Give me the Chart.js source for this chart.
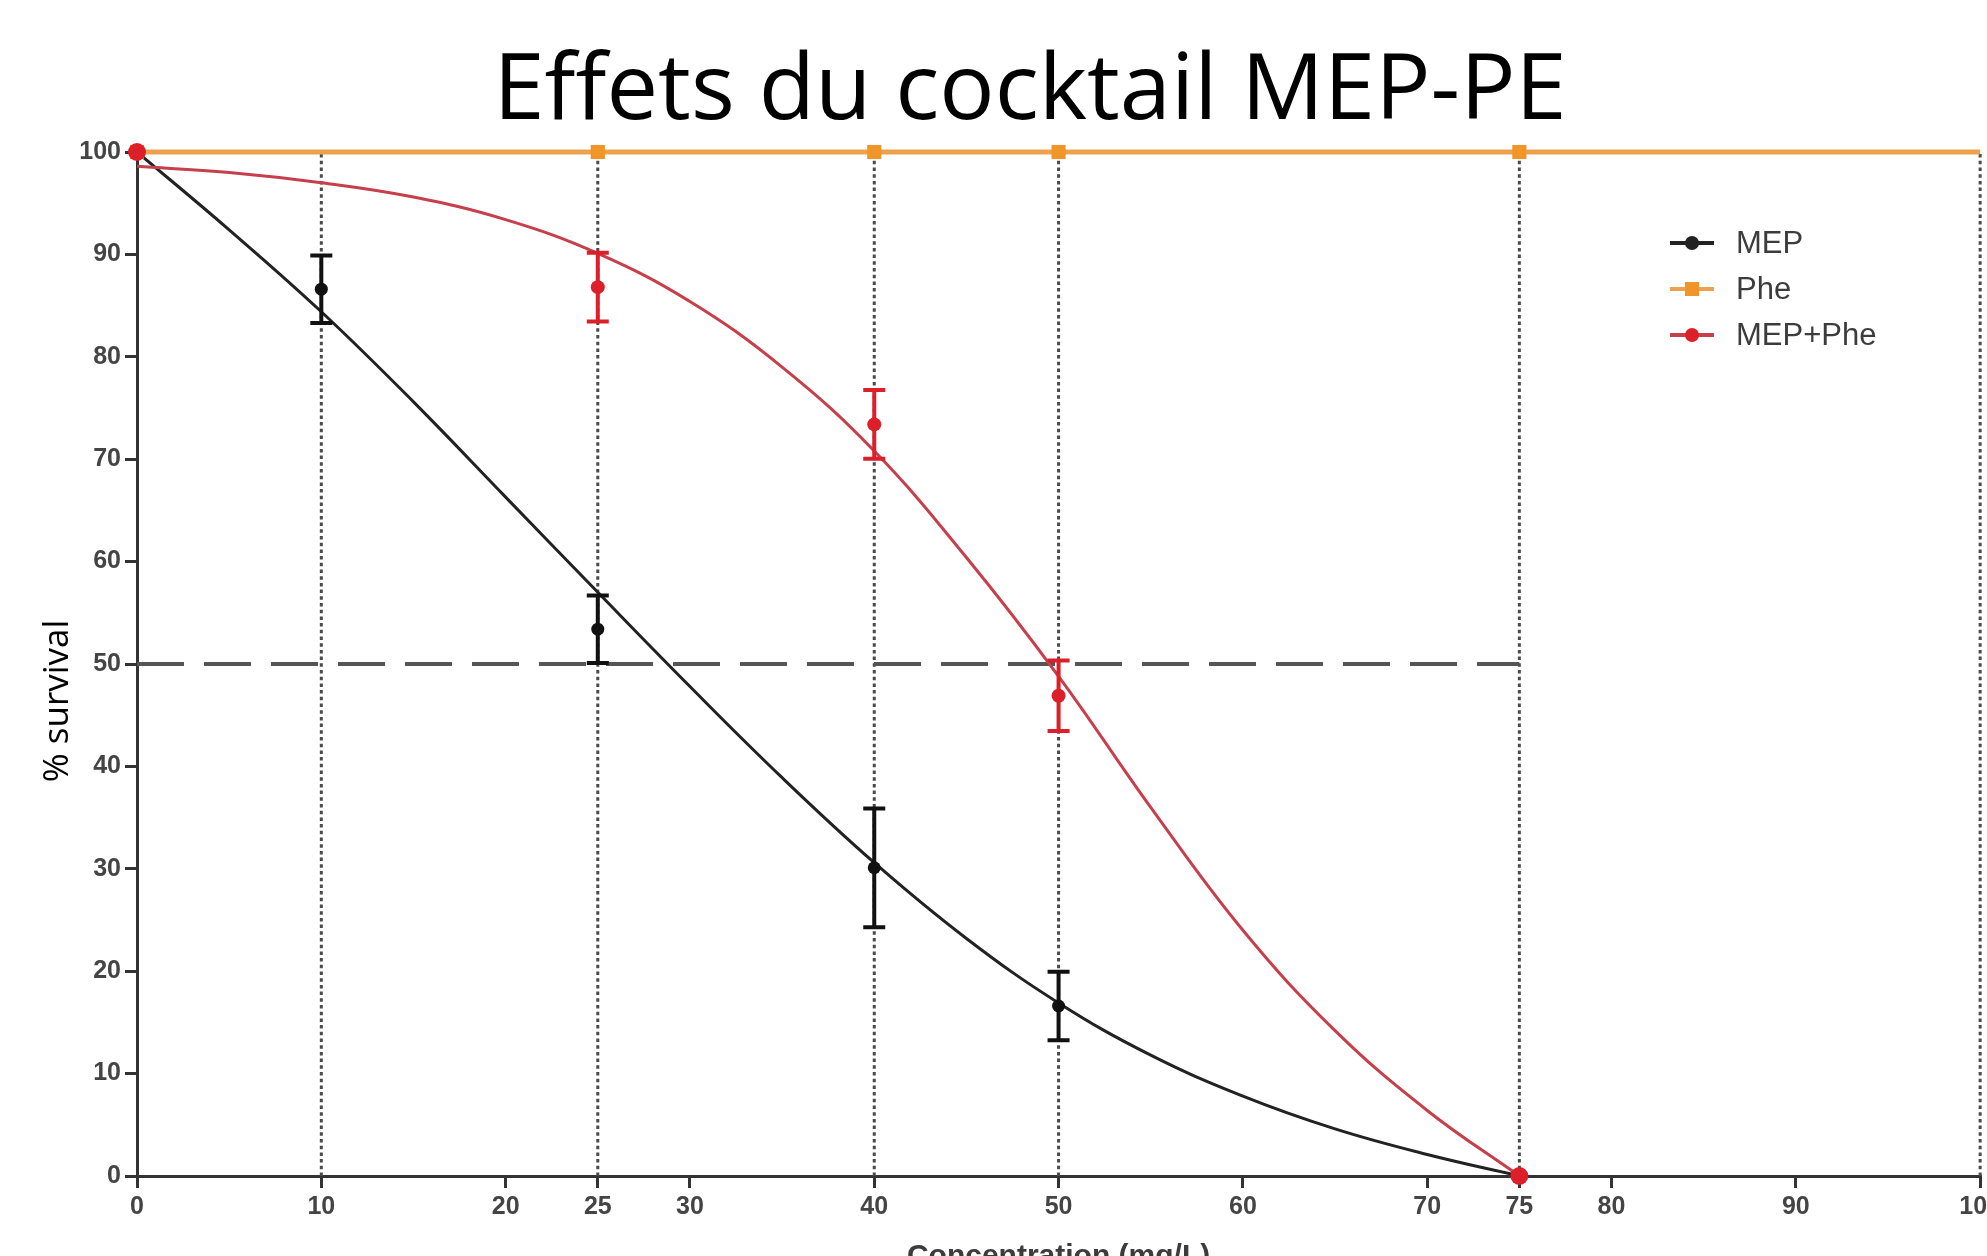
<!DOCTYPE html>
<html lang="fr">
<head>
    <meta charset="UTF-8">
    <title>Effets du cocktail MEP-PE</title>
    <style>
        html, body {
            margin: 0;
            padding: 0;
            background: #fff;
            overflow: hidden;
        }
        .chart-box {
            position: relative;
            width: 2005px;
            height: 1290px;
        }
    </style>
    <script src="https://cdn.jsdelivr.net/npm/chart.js"></script>
</head>
<body>
    <div class="chart-box">
        <canvas id="chart"></canvas>
    </div>

    <script>
        // concentrations (mg/L) et % survie
        const mepX = [0, 10, 25, 40, 50, 75];
        const mepY = [100, 86.6, 53.4, 30.1, 16.6, 0];
        const mepErr = [0, 3.3, 3.3, 5.8, 3.35, 0];

        const pheX = [0, 25, 40, 50, 75];
        const pheY = [100, 100, 100, 100, 100];

        const mixX = [0, 25, 40, 50, 75];
        const mixY = [100, 86.8, 73.4, 46.9, 0];
        const mixErr = [0, 3.35, 3.35, 3.45, 0];

        // courbes ajustées, relevées tous les 5 mg/L
        const fitX = [0, 5, 10, 15, 20, 25, 30, 35, 40, 45, 50, 55, 60, 65, 70, 75];
        const mepFit = [100, 92.4, 84.4, 75.6, 66.3, 57.0, 47.8, 38.9, 30.6, 23.2, 16.9, 11.8, 7.8, 4.6, 2.1, 0];
        const mixFit = [98.6, 98.0, 97.0, 95.6, 93.4, 90.1, 85.4, 79.0, 70.8, 60.4, 48.8, 36.0, 24.0, 14.2, 6.4, 0];
        const pheFitX = [0, 100];
        const pheFit = [100, 100];

        // repères
        const guideX = [10, 25, 40, 50, 75, 100];
        const halfX = [0, 75];
        const halfY = [50, 50];

        const xTicks = [0, 10, 20, 25, 30, 40, 50, 60, 70, 75, 80, 90, 100];
        const legendLabels = ['MEP', 'Phe', 'MEP+Phe'];

        const BLACK = '#222';
        const ORANGE = '#eda14f';
        const ORANGE_PT = '#f0952a';
        const RED_LINE = '#c63f4b';
        const RED_PT = '#dc1f28';

        function pts(xs, ys) {
            return xs.map((x, i) => ({ x: x, y: ys[i] }));
        }

        const errorBars = {
            id: 'errorBars',
            afterDatasetsDraw(chart) {
                const ctx = chart.ctx;
                const xs = chart.scales.x, ys = chart.scales.y;
                const sets = [[mepX, mepY, mepErr, '#111'], [mixX, mixY, mixErr, RED_PT]];
                ctx.save();
                ctx.lineWidth = 4;
                sets.forEach(([X, Y, E, col]) => {
                    ctx.strokeStyle = col;
                    X.forEach((v, i) => {
                        if (!E[i]) return;
                        const px = xs.getPixelForValue(v);
                        const top = ys.getPixelForValue(Y[i] + E[i]);
                        const bot = ys.getPixelForValue(Y[i] - E[i]);
                        ctx.beginPath();
                        ctx.moveTo(px, top); ctx.lineTo(px, bot);
                        ctx.moveTo(px - 11, top); ctx.lineTo(px + 11, top);
                        ctx.moveTo(px - 11, bot); ctx.lineTo(px + 11, bot);
                        ctx.stroke();
                    });
                });
                ctx.restore();
            }
        };

        const texts = {
            id: 'texts',
            afterDraw(chart) {
                const ctx = chart.ctx;
                ctx.save();
                // titre
                ctx.fillStyle = '#000';
                ctx.font = '92px "Open Sans"';
                ctx.textAlign = 'center';
                ctx.textBaseline = 'alphabetic';
                ctx.fillText('Effets du cocktail MEP-PE', 1030, 119);
                // titre axe y
                ctx.save();
                ctx.translate(68, 701);
                ctx.rotate(-Math.PI / 2);
                ctx.font = '35px "Open Sans"';
                ctx.fillText('% survival', 0, 0);
                ctx.restore();
                // légende
                const cols = [BLACK, ORANGE, RED_LINE];
                const mk = [BLACK, ORANGE_PT, RED_PT];
                ctx.textAlign = 'left';
                ctx.textBaseline = 'middle';
                ctx.font = '31px Arial';
                legendLabels.forEach((lab, i) => {
                    const y = 243 + i * 46;
                    ctx.strokeStyle = cols[i];
                    ctx.lineWidth = 4;
                    ctx.beginPath();
                    ctx.moveTo(1670, y); ctx.lineTo(1714, y);
                    ctx.stroke();
                    ctx.fillStyle = mk[i];
                    if (i === 1) {
                        ctx.fillRect(1685, y - 7, 14, 14);
                    } else {
                        ctx.beginPath();
                        ctx.arc(1692, y, 7, 0, Math.PI * 2);
                        ctx.fill();
                    }
                    ctx.fillStyle = '#3c3c3c';
                    ctx.fillText(lab, 1736, y + 1);
                });
                ctx.restore();
            }
        };

        const ctx = document.getElementById('chart').getContext('2d');
        new Chart(ctx, {
            type: 'line',
            data: {
                datasets: [
                    {
                        label: 'guides',
                        data: guideX.flatMap(x => [{ x: x, y: 0 }, { x: x, y: 100 }, { x: x, y: null }]),
                        borderColor: '#4a4a4a',
                        borderWidth: 3,
                        borderDash: [3.5, 3.2],
                        pointRadius: 0,
                        spanGaps: false,
                        clip: false,
                        order: 10
                    },
                    {
                        label: 'CL50',
                        data: pts(halfX, halfY),
                        borderColor: '#555',
                        borderWidth: 4,
                        borderDash: [47, 20],
                        pointRadius: 0,
                        order: 9
                    },
                    {
                        label: 'Phe fit',
                        data: pts(pheFitX, pheFit),
                        borderColor: ORANGE,
                        borderWidth: 5,
                        pointRadius: 0,
                        clip: false,
                        order: 8
                    },
                    {
                        label: 'MEP fit',
                        data: pts(fitX, mepFit),
                        borderColor: BLACK,
                        borderWidth: 3,
                        pointRadius: 0,
                        tension: 0.4,
                        order: 7
                    },
                    {
                        label: 'MEP+Phe fit',
                        data: pts(fitX, mixFit),
                        borderColor: RED_LINE,
                        borderWidth: 3,
                        pointRadius: 0,
                        tension: 0.4,
                        order: 6
                    },
                    {
                        label: 'Phe',
                        data: pts(pheX, pheY),
                        showLine: false,
                        pointStyle: 'rect',
                        pointRadius: 10,
                        backgroundColor: ORANGE_PT,
                        borderWidth: 0,
                        clip: false,
                        order: 5
                    },
                    {
                        label: 'MEP',
                        data: pts(mepX, mepY),
                        showLine: false,
                        pointRadius: 6.5,
                        backgroundColor: '#111',
                        borderWidth: 0,
                        clip: false,
                        order: 4
                    },
                    {
                        label: 'MEP+Phe',
                        data: pts(mixX, mixY),
                        showLine: false,
                        pointRadius: [9, 7, 7, 7, 9],
                        backgroundColor: RED_PT,
                        borderWidth: 0,
                        clip: false,
                        order: 3
                    }
                ]
            },
            options: {
                responsive: true,
                maintainAspectRatio: false,
                animation: false,
                layout: {
                    autoPadding: false,
                    padding: { left: 0, top: 152, right: 0, bottom: 0 }
                },
                plugins: {
                    legend: { display: false },
                    tooltip: { enabled: false }
                },
                scales: {
                    x: {
                        type: 'linear',
                        min: 0,
                        max: 100,
                        afterFit: s => { s.height = 114; },
                        afterBuildTicks: s => { s.ticks = xTicks.map(v => ({ value: v })); },
                        border: { display: true, color: '#333', width: 3 },
                        grid: { drawOnChartArea: false, drawTicks: true, tickLength: 12, color: '#333', lineWidth: 3 },
                        ticks: {
                            autoSkip: false,
                            maxRotation: 0,
                            padding: 4,
                            color: '#444',
                            font: { family: 'Arial, "Liberation Sans"', size: 25, weight: 'bold' }
                        },
                        title: {
                            display: true,
                            text: 'Concentration (mg/L)',
                            color: '#3c3c3c',
                            font: { family: 'Arial, "Liberation Sans"', size: 30, weight: 'bold' },
                            padding: { top: 0, bottom: 15 }
                        }
                    },
                    y: {
                        min: 0,
                        max: 100,
                        afterFit: s => { s.width = 137; },
                        border: { display: true, color: '#333', width: 3 },
                        grid: { drawOnChartArea: false, drawTicks: true, tickLength: 12, color: '#333', lineWidth: 3 },
                        ticks: {
                            stepSize: 10,
                            padding: 4,
                            color: '#444',
                            font: { family: 'Arial, "Liberation Sans"', size: 25, weight: 'bold' }
                        }
                    }
                }
            },
            plugins: [errorBars, texts]
        });
    </script>
</body>
</html>
